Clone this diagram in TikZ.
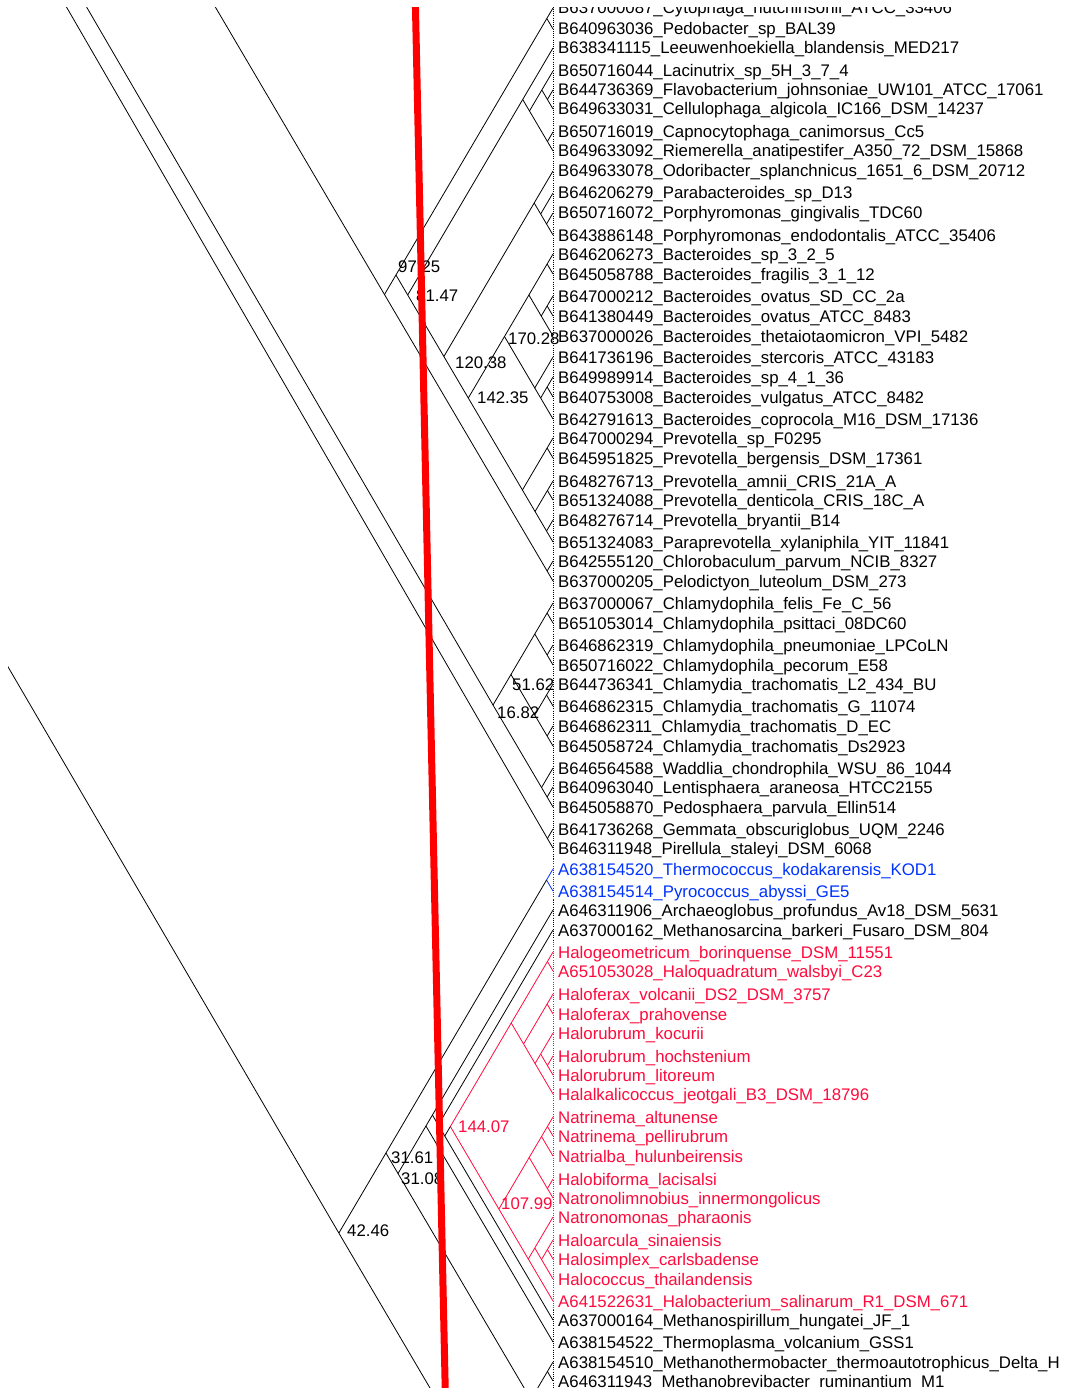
\documentclass[tikz,border=0pt]{standalone}
\usepackage{fontspec}
\setmainfont{Liberation Sans}
\usepackage{tikz}
\usetikzlibrary{calc}
\definecolor{TreeBlue}{HTML}{0033FF}
\definecolor{TreeRed}{HTML}{FF0A3C}
\definecolor{CutRed}{HTML}{FF0000}
\newcommand{\tipfont}{\fontsize{16.8pt}{20pt}\selectfont}
\newcommand{\slp}{1.7}
% tip point + its label
\newcommand{\tipleaf}[4][black]{%
  \coordinate (t#2) at (553,#3);
  \node[tiplabel,text=#1] (L#2) at (558,#3+6) {#4};}
% inner node where the two slanted branches meet
\newcommand{\tjoin}[4][black]{%
  \path let \p1=(#3), \p2=(#4) in
    coordinate (#2) at ({(\x1+\x2)/2-(\y1-\y2)/(2*\slp)},{(\y1+\y2)/2-\slp*(\x1-\x2)/2});
  \draw[edgeline,#1] (#2) -- (#3) (#2) -- (#4);}

\begin{document}
\begin{tikzpicture}[x=1pt,y=-1pt,
  tiplabel/.style={anchor=base west,inner sep=0pt,font=\tipfont},
  nodelabel/.style={anchor=base west,inner sep=0pt,font=\tipfont},
  edgeline/.style={line width=0.8pt},
  tipline/.style={line width=0.8pt,dash pattern=on 1pt off 1.2pt},
  cutline/.style={CutRed,line width=7pt}]
\useasboundingbox (0,0) rectangle (1067,1388);
\fill[white] (0,0) rectangle (1067,1388);
\clip (8,8) rectangle (1067,1388);

% tip line
\draw[tipline] (553,0) -- (553,859);
\draw[tipline,TreeBlue] (553,859) -- (553,900);
\draw[tipline] (553,900) -- (553,942);
\draw[tipline,TreeRed] (553,942) -- (553,1310);
\draw[tipline] (553,1310) -- (553,1388);

% leaves
\tipleaf{01}{8}{B637000087\_Cytophaga\_hutchinsonii\_ATCC\_33406}
\tipleaf{02}{29}{B640963036\_Pedobacter\_sp\_BAL39}
\tipleaf{03}{48}{B638341115\_Leeuwenhoekiella\_blandensis\_MED217}
\tipleaf{04}{71}{B650716044\_Lacinutrix\_sp\_5H\_3\_7\_4}
\tipleaf{05}{90}{B644736369\_Flavobacterium\_johnsoniae\_UW101\_ATCC\_17061}
\tipleaf{06}{109}{B649633031\_Cellulophaga\_algicola\_IC166\_DSM\_14237}
\tipleaf{07}{132}{B650716019\_Capnocytophaga\_canimorsus\_Cc5}
\tipleaf{08}{151}{B649633092\_Riemerella\_anatipestifer\_A350\_72\_DSM\_15868}
\tipleaf{09}{171}{B649633078\_Odoribacter\_splanchnicus\_1651\_6\_DSM\_20712}
\tipleaf{10}{193}{B646206279\_Parabacteroides\_sp\_D13}
\tipleaf{11}{213}{B650716072\_Porphyromonas\_gingivalis\_TDC60}
\tipleaf{12}{235}{B643886148\_Porphyromonas\_endodontalis\_ATCC\_35406}
\tipleaf{13}{254}{B646206273\_Bacteroides\_sp\_3\_2\_5}
\tipleaf{14}{274}{B645058788\_Bacteroides\_fragilis\_3\_1\_12}
\tipleaf{15}{296}{B647000212\_Bacteroides\_ovatus\_SD\_CC\_2a}
\tipleaf{16}{316}{B641380449\_Bacteroides\_ovatus\_ATCC\_8483}
\tipleaf{17}{336}{B637000026\_Bacteroides\_thetaiotaomicron\_VPI\_5482}
\tipleaf{18}{357}{B641736196\_Bacteroides\_stercoris\_ATCC\_43183}
\tipleaf{19}{377}{B649989914\_Bacteroides\_sp\_4\_1\_36}
\tipleaf{20}{397}{B640753008\_Bacteroides\_vulgatus\_ATCC\_8482}
\tipleaf{21}{419}{B642791613\_Bacteroides\_coprocola\_M16\_DSM\_17136}
\tipleaf{22}{438}{B647000294\_Prevotella\_sp\_F0295}
\tipleaf{23}{458}{B645951825\_Prevotella\_bergensis\_DSM\_17361}
\tipleaf{24}{481}{B648276713\_Prevotella\_amnii\_CRIS\_21A\_A}
\tipleaf{25}{500}{B651324088\_Prevotella\_denticola\_CRIS\_18C\_A}
\tipleaf{26}{520}{B648276714\_Prevotella\_bryantii\_B14}
\tipleaf{27}{542}{B651324083\_Paraprevotella\_xylaniphila\_YIT\_11841}
\tipleaf{28}{561}{B642555120\_Chlorobaculum\_parvum\_NCIB\_8327}
\tipleaf{29}{581}{B637000205\_Pelodictyon\_luteolum\_DSM\_273}
\tipleaf{30}{603}{B637000067\_Chlamydophila\_felis\_Fe\_C\_56}
\tipleaf{31}{623}{B651053014\_Chlamydophila\_psittaci\_08DC60}
\tipleaf{32}{645}{B646862319\_Chlamydophila\_pneumoniae\_LPCoLN}
\tipleaf{33}{665}{B650716022\_Chlamydophila\_pecorum\_E58}
\tipleaf{34}{684}{B644736341\_Chlamydia\_trachomatis\_L2\_434\_BU}
\tipleaf{35}{706}{B646862315\_Chlamydia\_trachomatis\_G\_11074}
\tipleaf{36}{726}{B646862311\_Chlamydia\_trachomatis\_D\_EC}
\tipleaf{37}{746}{B645058724\_Chlamydia\_trachomatis\_Ds2923}
\tipleaf{38}{768}{B646564588\_Waddlia\_chondrophila\_WSU\_86\_1044}
\tipleaf{39}{787}{B640963040\_Lentisphaera\_araneosa\_HTCC2155}
\tipleaf{40}{807}{B645058870\_Pedosphaera\_parvula\_Ellin514}
\tipleaf{41}{829}{B641736268\_Gemmata\_obscuriglobus\_UQM\_2246}
\tipleaf{42}{848}{B646311948\_Pirellula\_staleyi\_DSM\_6068}
\tipleaf[TreeBlue]{43}{869}{A638154520\_Thermococcus\_kodakarensis\_KOD1}
\tipleaf[TreeBlue]{44}{891}{A638154514\_Pyrococcus\_abyssi\_GE5}
\tipleaf{45}{910}{A646311906\_Archaeoglobus\_profundus\_Av18\_DSM\_5631}
\tipleaf{46}{930}{A637000162\_Methanosarcina\_barkeri\_Fusaro\_DSM\_804}
\tipleaf[TreeRed]{47}{952}{Halogeometricum\_borinquense\_DSM\_11551}
\tipleaf[TreeRed]{48}{971}{A651053028\_Haloquadratum\_walsbyi\_C23}
\tipleaf[TreeRed]{49}{994}{Haloferax\_volcanii\_DS2\_DSM\_3757}
\tipleaf[TreeRed]{50}{1014}{Haloferax\_prahovense}
\tipleaf[TreeRed]{51}{1033}{Halorubrum\_kocurii}
\tipleaf[TreeRed]{52}{1056}{Halorubrum\_hochstenium}
\tipleaf[TreeRed]{53}{1075}{Halorubrum\_litoreum}
\tipleaf[TreeRed]{54}{1094}{Halalkalicoccus\_jeotgali\_B3\_DSM\_18796}
\tipleaf[TreeRed]{55}{1117}{Natrinema\_altunense}
\tipleaf[TreeRed]{56}{1136}{Natrinema\_pellirubrum}
\tipleaf[TreeRed]{57}{1156}{Natrialba\_hulunbeirensis}
\tipleaf[TreeRed]{58}{1179}{Halobiforma\_lacisalsi}
\tipleaf[TreeRed]{59}{1198}{Natronolimnobius\_innermongolicus}
\tipleaf[TreeRed]{60}{1217}{Natronomonas\_pharaonis}
\tipleaf[TreeRed]{61}{1240}{Haloarcula\_sinaiensis}
\tipleaf[TreeRed]{62}{1259}{Halosimplex\_carlsbadense}
\tipleaf[TreeRed]{63}{1279}{Halococcus\_thailandensis}
\tipleaf[TreeRed]{64}{1301}{A641522631\_Halobacterium\_salinarum\_R1\_DSM\_671}
\tipleaf{65}{1320}{A637000164\_Methanospirillum\_hungatei\_JF\_1}
\tipleaf{66}{1342}{A638154522\_Thermoplasma\_volcanium\_GSS1}
\tipleaf{67}{1362}{A638154510\_Methanothermobacter\_thermoautotrophicus\_Delta\_H}
\tipleaf{68}{1381}{A646311943\_Methanobrevibacter\_ruminantium\_M1}

% ends outside the frame
\coordinate (tlow) at (553,1437);
\coordinate (bot) at (480,1473);
\coordinate (QR) at (150,-104);
\coordinate (P16) at (-13,-164);
\coordinate (PPl) at (-33,-165);
\coordinate (P42) at (-100,482);

% Bacteroidetes / Chlorobi
\tjoin{T}{t01}{t02}
\tjoin{a1}{t05}{t06}
\tjoin{a2}{t04}{a1}
\tjoin{a3}{t07}{t08}
\tjoin{a4}{a2}{a3}
\tjoin{F}{t03}{a4}
\tjoin{porph}{t11}{t12}
\tjoin{b1}{t10}{porph}
\tjoin{b2}{t09}{b1}
\tjoin{c1}{t13}{t14}
\tjoin{c2}{t15}{t16}
\tjoin{c3}{c2}{t17}
\tjoin{c4}{c1}{c3}
\tjoin{c5}{t19}{t20}
\tjoin{c6}{c5}{t21}
\tjoin{c7}{t18}{c6}
\tjoin{n170}{c4}{c7}
\tjoin{d1}{t22}{t23}
\tjoin{d2}{t24}{t25}
\tjoin{d3}{t26}{t27}
\tjoin{d4}{d2}{d3}
\tjoin{prev}{d1}{d4}
\tjoin{n142}{n170}{prev}
\tjoin{n120}{b2}{n142}
\tjoin{n81}{F}{n120}
\tjoin{n97}{T}{n81}
\tjoin{chl}{t28}{t29}
\tjoin{R}{n97}{chl}
\draw[edgeline] (QR) -- (R);

% Chlamydiae and the rest
\tjoin{f1}{t30}{t31}
\tjoin{f2}{t32}{t33}
\tjoin{cp}{f1}{f2}
\tjoin{g1}{t34}{t35}
\tjoin{g2}{t36}{t37}
\tjoin{ct}{g1}{g2}
\tjoin{n51}{cp}{ct}
\tjoin{lp}{t39}{t40}
\tjoin{w}{t38}{lp}
\tjoin{n16}{n51}{w}
\draw[edgeline] (P16) -- (n16);
\tjoin{pl}{t41}{t42}
\draw[edgeline] (PPl) -- (pl);

% Archaea
\tjoin[TreeBlue]{tc}{t43}{t44}
\tjoin[TreeRed]{h1}{t47}{t48}
\tjoin[TreeRed]{h2}{t49}{t50}
\tjoin[TreeRed]{h3}{t52}{t53}
\tjoin[TreeRed]{h4}{t51}{h3}
\tjoin[TreeRed]{h5}{h4}{t54}
\tjoin[TreeRed]{h6}{h2}{h5}
\tjoin[TreeRed]{ht}{h1}{h6}
\tjoin[TreeRed]{k1}{t55}{t56}
\tjoin[TreeRed]{k2}{k1}{t57}
\tjoin[TreeRed]{k3}{t58}{t59}
\tjoin[TreeRed]{k4}{k2}{k3}
\tjoin[TreeRed]{k5}{t61}{t62}
\tjoin[TreeRed]{k6}{k5}{t63}
\tjoin[TreeRed]{k7}{t60}{k6}
\tjoin[TreeRed]{k8}{k7}{t64}
\tjoin[TreeRed]{n107}{k4}{k8}
\tjoin[TreeRed]{n144}{ht}{n107}
\tjoin{nms}{n144}{t65}
\tjoin{y1}{t46}{nms}
\tjoin{y2}{t45}{y1}
\tjoin{y3}{y2}{t66}
\tjoin{mb}{t67}{t68}
\tjoin{z}{mb}{tlow}
\tjoin{n3108}{y3}{z}
\tjoin{n3161}{tc}{n3108}
\tjoin{n42}{n3161}{bot}
\draw[edgeline] (P42) -- (n42);

% node values
\node[nodelabel] (v97) at (398,272) {97.25};
\node[nodelabel] (v81) at (416,301) {81.47};
\node[nodelabel] (v170) at (508,344) {170.28};
\node[nodelabel] (v120) at (455,368) {120.38};
\node[nodelabel] (v142) at (477,403) {142.35};
\node[nodelabel] (v51) at (512,690) {51.62};
\node[nodelabel] (v16) at (497,718) {16.82};
\node[nodelabel,text=TreeRed] (v144) at (458,1132) {144.07};
\node[nodelabel] (v3161) at (391,1163) {31.61};
\node[nodelabel] (v3108) at (401,1184) {31.08};
\node[nodelabel,text=TreeRed] (v107) at (501,1209) {107.99};
\node[nodelabel] (v42) at (347,1236) {42.46};

% red cut line
\coordinate (cutA) at (415.3,0);
\coordinate (cutB) at (445.2,1388);
\draw[cutline] (cutA) -- (cutB);
\end{tikzpicture}
\end{document}
